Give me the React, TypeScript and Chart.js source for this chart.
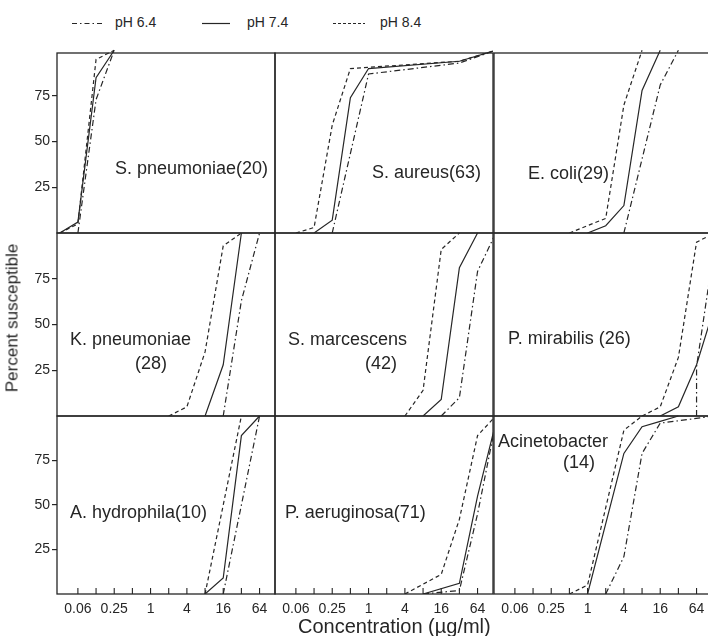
import React, { useEffect, useRef } from "react";
import { Chart, registerables } from "chart.js";
Chart.register(...registerables);

// ---------- data ----------
const seriesLabels = ["pH 6.4", "pH 7.4", "pH 8.4"];
const xTicks = [0.0625, 0.125, 0.25, 0.5, 1, 2, 4, 8, 16, 32, 64];
const xTickLabels = ["0.06", "", "0.25", "", "1", "", "4", "", "16", "", "64"];
const yTicks = [25, 50, 75];

// [concentration (µg/ml), percent susceptible]
const sPneumoniae64 = [[0.0625, 0], [0.125, 73], [0.25, 100]];
const sPneumoniae74 = [[0.03125, 0], [0.0625, 6], [0.125, 85], [0.25, 100]];
const sPneumoniae84 = [[0.03125, 0], [0.0625, 5], [0.125, 95], [0.25, 100]];

const sAureus64 = [[0.25, 0], [1, 87], [32, 93], [128, 100]];
const sAureus74 = [[0.125, 0], [0.25, 7], [0.5, 74], [1, 90], [32, 94], [128, 100]];
const sAureus84 = [[0.0625, 0], [0.125, 3], [0.25, 59], [0.5, 90], [32, 94], [128, 100]];

const eColi64 = [[4, 0], [16, 81], [32, 100]];
const eColi74 = [[1, 0], [2, 4], [4, 15], [8, 78], [16, 100]];
const eColi84 = [[0.5, 0], [2, 8], [4, 70], [8, 100]];

const kPneumoniae64 = [[16, 0], [32, 63], [64, 100]];
const kPneumoniae74 = [[8, 0], [16, 28], [32, 100]];
const kPneumoniae84 = [[2, 0], [4, 5], [8, 35], [16, 93], [32, 100]];

const sMarcescens64 = [[16, 0], [32, 10], [64, 79], [128, 100]];
const sMarcescens74 = [[8, 0], [16, 9], [32, 81], [64, 100]];
const sMarcescens84 = [[4, 0], [8, 14], [16, 91], [32, 100]];

const pMirabilis64 = [[64, 0], [64, 27], [128, 94]];
const pMirabilis74 = [[16, 0], [32, 5], [64, 28], [128, 60]];
const pMirabilis84 = [[8, 0], [16, 5], [32, 32], [64, 95], [128, 100]];

const aHydrophila64 = [[16, 0], [64, 100]];
const aHydrophila74 = [[8, 0], [16, 9], [32, 89], [64, 100]];
const aHydrophila84 = [[8, 0], [32, 100]];

const pAeruginosa64 = [[8, 0], [32, 2], [64, 45], [128, 96]];
const pAeruginosa74 = [[8, 0], [32, 6], [64, 55], [128, 96]];
const pAeruginosa84 = [[4, 0], [16, 11], [32, 42], [64, 89], [128, 100]];

const acinetobacter64 = [[2, 0], [4, 21], [8, 79], [16, 96], [128, 100]];
const acinetobacter74 = [[1, 0], [4, 79], [8, 94], [16, 97], [32, 100]];
const acinetobacter84 = [[0.5, 0], [1, 5], [4, 92], [8, 100]];

const panelLines = [
  [sPneumoniae64, sPneumoniae74, sPneumoniae84],
  [sAureus64, sAureus74, sAureus84],
  [eColi64, eColi74, eColi84],
  [kPneumoniae64, kPneumoniae74, kPneumoniae84],
  [sMarcescens64, sMarcescens74, sMarcescens84],
  [pMirabilis64, pMirabilis74, pMirabilis84],
  [aHydrophila64, aHydrophila74, aHydrophila84],
  [pAeruginosa64, pAeruginosa74, pAeruginosa84],
  [acinetobacter64, acinetobacter74, acinetobacter84],
];

const panelNames = [
  ["S. pneumoniae(20)"],
  ["S. aureus(63)"],
  ["E. coli(29)"],
  ["K. pneumoniae", "(28)"],
  ["S. marcescens", "(42)"],
  ["P. mirabilis (26)"],
  ["A. hydrophila(10)"],
  ["P. aeruginosa(71)"],
  ["Acinetobacter", "(14)"],
];

// ---------- layout / style ----------
const FONT = "'Liberation Sans', Arial, sans-serif";
const INK = "#262626";
const colLeft = [57, 275, 494];
const colWidth = 218;
const rowTop = [53, 233, 416];
const rowHeight = [180, 183, 178];
const rowYMax = [98.5, 100, 100];
const PAD = 10;
const BOTTOM_AXIS = 40;
const X_MIN = Math.pow(2, -5.15);
const X_MAX = Math.pow(2, 6.85);
const dashes = [[6, 3, 1.5, 3], [], [4, 3]];

// label positions: [left, capCenterY] per line
const labelPos = [
  [[115, 168]],
  [[372, 172]],
  [[528, 173]],
  [[70, 339], [135, 363]],
  [[288, 339], [365, 363]],
  [[508, 338]],
  [[70, 512]],
  [[285, 512]],
  [[498, 441], [563, 462]],
];
const LABEL_FS = 18;

function makeConfig(k: number): any {
  const r = Math.floor(k / 3);
  const c = k % 3;
  const bottomRow = r === 2;
  const leftCol = c === 0;
  const frame = {
    id: "frame" + k,
    beforeDatasetsDraw(chart: any) {
      const { ctx, chartArea: a } = chart;
      ctx.save();
      ctx.strokeStyle = INK;
      ctx.lineWidth = 1.3;
      ctx.strokeRect(a.left, a.top, a.right - a.left, a.bottom - a.top);
      if (bottomRow) {
        const xs = chart.scales.x;
        ctx.beginPath();
        xTicks.forEach((v) => {
          const px = xs.getPixelForValue(v);
          ctx.moveTo(px, a.bottom);
          ctx.lineTo(px, a.bottom - 6);
        });
        ctx.lineWidth = 1.1;
        ctx.stroke();
      }
      ctx.restore();
    },
  };
  return {
    type: "scatter",
    data: {
      datasets: panelLines[k].map((pts, i) => ({
        label: seriesLabels[i],
        data: pts.map(([x, y]) => ({ x, y })),
        showLine: true,
        borderColor: INK,
        backgroundColor: INK,
        borderWidth: 1.2,
        borderDash: dashes[i],
        pointRadius: 0,
        fill: false,
        tension: 0,
        clip: { left: 0, right: 0, top: PAD, bottom: 0 },
      })),
    },
    options: {
      responsive: false,
      maintainAspectRatio: false,
      animation: false,
      events: [],
      layout: {
        padding: {
          left: leftCol ? 0 : PAD,
          right: PAD,
          top: PAD,
          bottom: bottomRow ? 0 : PAD,
        },
      },
      plugins: { legend: { display: false }, tooltip: { enabled: false }, title: { display: false } },
      scales: {
        x: {
          type: "logarithmic",
          min: X_MIN,
          max: X_MAX,
          display: bottomRow,
          afterBuildTicks: (s: any) => {
            s.ticks = xTicks.map((v) => ({ value: v }));
          },
          afterFit: (s: any) => {
            if (!bottomRow) return;
            s.height = BOTTOM_AXIS;
            s.paddingLeft = 0;
            s.paddingRight = 0;
          },
          ticks: {
            autoSkip: false,
            maxRotation: 0,
            minRotation: 0,
            padding: 7,
            color: INK,
            font: { family: FONT, size: 14 },
            callback: (_v: any, i: number) => xTickLabels[i],
          },
          grid: { display: false, drawTicks: false },
          border: { display: false },
        },
        y: {
          type: "linear",
          min: 0,
          max: rowYMax[r],
          display: leftCol,
          afterBuildTicks: (s: any) => {
            s.ticks = yTicks.map((v) => ({ value: v }));
          },
          afterFit: (s: any) => {
            if (!leftCol) return;
            s.width = colLeft[0];
            s.paddingTop = 0;
            s.paddingBottom = 0;
          },
          ticks: {
            padding: 2,
            color: INK,
            font: { family: FONT, size: 14 },
          },
          grid: { drawOnChartArea: false, tickLength: 5, color: INK, lineWidth: 1.2 },
          border: { display: false },
        },
      },
    },
    plugins: [frame],
  };
}

function canvasRect(k: number) {
  const r = Math.floor(k / 3);
  const c = k % 3;
  const left = c === 0 ? 0 : colLeft[c] - PAD;
  const top = rowTop[r] - PAD;
  const width = (c === 0 ? colLeft[0] : PAD) + colWidth + PAD;
  const height = PAD + rowHeight[r] + (r === 2 ? BOTTOM_AXIS : PAD);
  return { left, top, width, height };
}

export default function App() {
  const refs = useRef<(HTMLCanvasElement | null)[]>([]);
  useEffect(() => {
    const charts = panelLines.map((_, k) => new Chart(refs.current[k] as HTMLCanvasElement, makeConfig(k)));
    return () => charts.forEach((ch) => ch.destroy());
  }, []);

  const legendItems = [
    { x1: 72, x2: 102, tx: 115, dash: "5 3 1.5 3" },
    { x1: 202, x2: 230, tx: 247, dash: "" },
    { x1: 333, x2: 365, tx: 380, dash: "3 2" },
  ];

  return (
    <div
      style={{
        position: "fixed",
        left: 0,
        top: 0,
        width: 708,
        height: 636,
        overflow: "hidden",
        background: "#fff",
        fontFamily: FONT,
        color: INK,
      }}
    >
      <svg width={708} height={40} style={{ position: "absolute", left: 0, top: 0 }}>
        {legendItems.map((it, i) => (
          <line
            key={i}
            x1={it.x1}
            x2={it.x2}
            y1={23.5}
            y2={23.5}
            stroke={INK}
            strokeWidth={1.2}
            strokeDasharray={it.dash || undefined}
          />
        ))}
      </svg>
      {legendItems.map((it, i) => (
        <div
          key={"lt" + i}
          style={{ position: "absolute", left: it.tx, top: 22.3 - 0.49 * 14, fontSize: 14, lineHeight: "14px", whiteSpace: "nowrap" }}
        >
          {seriesLabels[i]}
        </div>
      ))}
      {panelLines.map((_, k) => {
        const rc = canvasRect(k);
        return (
          <canvas
            key={"c" + k}
            ref={(el) => {
              refs.current[k] = el;
            }}
            width={rc.width}
            height={rc.height}
            style={{ position: "absolute", left: rc.left, top: rc.top, width: rc.width, height: rc.height }}
          />
        );
      })}
      {panelNames.map((lines, k) =>
        lines.map((txt, j) => (
          <div
            key={"n" + k + "_" + j}
            style={{
              position: "absolute",
              left: labelPos[k][j][0],
              top: labelPos[k][j][1] - 0.49 * LABEL_FS,
              fontSize: LABEL_FS,
              lineHeight: LABEL_FS + "px",
              whiteSpace: "nowrap",
            }}
          >
            {txt}
          </div>
        ))
      )}
      <div
        style={{
          position: "absolute",
          left: 12,
          top: 318,
          transform: "translate(-50%, -50%) rotate(-90deg)",
          fontSize: 17,
          lineHeight: "17px",
          whiteSpace: "nowrap",
        }}
      >
        Percent susceptible
      </div>
      <div
        style={{
          position: "absolute",
          left: 298,
          top: 626 - 0.49 * 20,
          fontSize: 20,
          lineHeight: "20px",
          whiteSpace: "nowrap",
        }}
      >
        Concentration (µg/ml)
      </div>
    </div>
  );
}
